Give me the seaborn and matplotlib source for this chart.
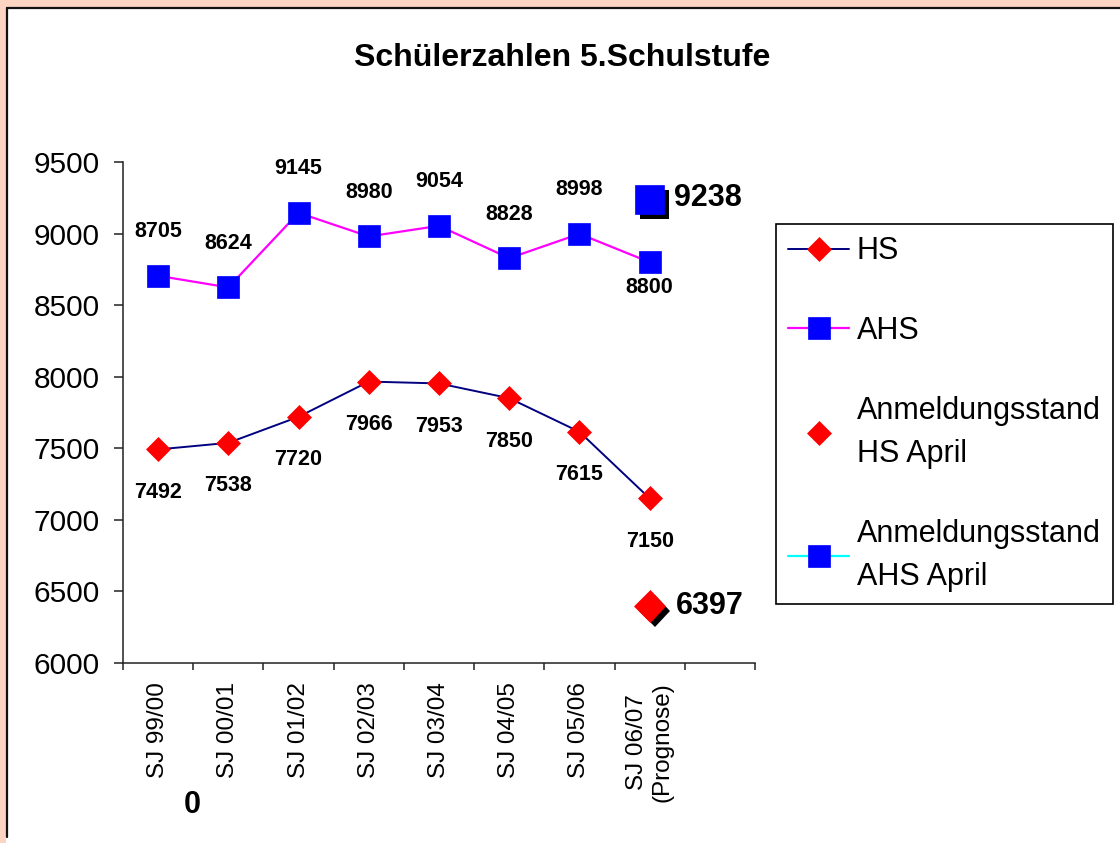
import numpy as np
import pandas as pd
import matplotlib
matplotlib.use("Agg")
import matplotlib.pyplot as plt
import matplotlib.patheffects as pe
from matplotlib.patches import Rectangle
from matplotlib.lines import Line2D
import seaborn as sns

# ---------------- data ----------------
title = "Schülerzahlen 5.Schulstufe"
categories = ["SJ 99/00", "SJ 00/01", "SJ 01/02", "SJ 02/03", "SJ 03/04",
              "SJ 04/05", "SJ 05/06", "SJ 06/07\n(Prognose)"]
hs = [7492, 7538, 7720, 7966, 7953, 7850, 7615, 7150]
ahs = [8705, 8624, 9145, 8980, 9054, 8828, 8998, 8800]
april_category = "SJ 06/07\n(Prognose)"
hs_april = [6397]
ahs_april = [9238]
series_names = ["HS", "AHS", "Anmeldungsstand\nHS April", "Anmeldungsstand\nAHS April"]
yticks = [6000, 6500, 7000, 7500, 8000, 8500, 9000, 9500]
stray_label = "0"

# ---------------- style ----------------
sns.set_style("ticks")
plt.rcParams["font.family"] = ["Liberation Sans", "DejaVu Sans"]
plt.rcParams["text.color"] = "black"
plt.rcParams["xtick.color"] = "black"
plt.rcParams["ytick.color"] = "black"
plt.rcParams["axes.labelcolor"] = "black"

W, H = 1120, 843
fig = plt.figure(figsize=(W / 100, H / 100), dpi=100)
fig.patch.set_facecolor("white")

# peach frame decoration
peach = "#FCD4C2"
fig.patches.append(Rectangle((0, 1 - 7 / H), 1, 7 / H, transform=fig.transFigure,
                             facecolor=peach, edgecolor="none", zorder=0))
fig.patches.append(Rectangle((0, 0), 6 / W, 1, transform=fig.transFigure,
                             facecolor=peach, edgecolor="none", zorder=0))
fig.lines.append(Line2D([7 / W, 1], [1 - 8 / H, 1 - 8 / H], transform=fig.transFigure,
                        color="#111111", lw=1.6))
fig.lines.append(Line2D([7 / W, 7 / W], [1 - 8 / H, 1 - 837 / H], transform=fig.transFigure,
                        color="#111111", lw=1.6))

ax = fig.add_axes([123 / W, 1 - 663 / H, (755 - 123) / W, (663 - 162) / H])
ax.set_facecolor("white")

pos = np.arange(len(categories))
df = pd.DataFrame({"pos": pos, "HS": hs, "AHS": ahs})
apos = [categories.index(april_category)]
df_hs_apr = pd.DataFrame({"pos": apos, "v": hs_april})
df_ahs_apr = pd.DataFrame({"pos": apos, "v": ahs_april})

sns.lineplot(data=df, x="pos", y="HS", ax=ax, color="#000080", lw=1.4,
             marker="D", markersize=12.5, markerfacecolor="#FF0000",
             markeredgecolor="#FF0000", markeredgewidth=0.5, label=series_names[0])
sns.lineplot(data=df, x="pos", y="AHS", ax=ax, color="#FF00FF", lw=1.6,
             marker="s", markersize=15.5, markerfacecolor="#0000FF",
             markeredgecolor="#0000FF", markeredgewidth=0.5, label=series_names[1])
sns.lineplot(data=df_hs_apr, x="pos", y="v", ax=ax, color="#FF0000", linestyle="none",
             marker="D", markersize=16, markerfacecolor="#FF0000",
             markeredgecolor="#FF0000", markeredgewidth=0.5, label=series_names[2])
sns.lineplot(data=df_ahs_apr, x="pos", y="v", ax=ax, color="#00FFFF", lw=1.6,
             marker="s", markersize=21, markerfacecolor="#0000FF",
             markeredgecolor="#0000FF", markeredgewidth=0.5, label=series_names[3])

shadow = [pe.SimplePatchShadow(offset=(3.5, -3.5), shadow_rgbFace="black", alpha=1.0),
          pe.Normal()]
ax.lines[2].set_path_effects(shadow)
ax.lines[3].set_path_effects(shadow)

# data labels
lab_kw = dict(fontsize=15.5, fontweight="bold", ha="center", va="center",
              textcoords="offset pixels", color="black")
for p, v in zip(pos, ahs):
    dy = -25 if p == len(pos) - 1 else 44
    ax.annotate(str(v), (p, v), xytext=(0, dy), **lab_kw)
for p, v in zip(pos, hs):
    ax.annotate(str(v), (p, v), xytext=(0, -43), **lab_kw)
big_kw = dict(fontsize=22, fontweight="bold", ha="left", va="center",
              textcoords="offset pixels", color="black")
ax.annotate(str(ahs_april[0]), (apos[0], ahs_april[0]), xytext=(24, 2), **big_kw)
ax.annotate(str(hs_april[0]), (apos[0], hs_april[0]), xytext=(26, 0), **big_kw)

# axes
ax.set_xlim(-0.5, len(categories) + 0.5)
ax.set_ylim(yticks[0], yticks[-1])
ax.set_yticks(yticks)
ax.set_yticklabels([str(t) for t in yticks])
ax.set_xticks(np.arange(-0.5, len(categories) + 1, 1))
ax.set_xticklabels([])
ax.set_xticks(pos, minor=True)
ax.set_xticklabels(categories, minor=True, rotation=90)
for t in ax.get_xticklabels(minor=True):
    t.set_multialignment("center")
ax.tick_params(axis="x", which="major", length=5, width=1.1, direction="out", color="#222222")
ax.tick_params(axis="x", which="minor", length=0, pad=14, labelsize=17.5, labelcolor="black")
ax.tick_params(axis="y", which="major", length=6.5, width=1.1, direction="out",
               color="#222222", pad=10, labelsize=21.5, labelcolor="black")
ax.set_xlabel("")
ax.set_ylabel("")
sns.despine(ax=ax)
for s in ("left", "bottom"):
    ax.spines[s].set_color("#222222")
    ax.spines[s].set_linewidth(1.1)

ax.get_legend().remove()
handles = ax.lines[:4]
leg = fig.legend(handles, series_names, loc="upper left",
                 bbox_to_anchor=(776 / W, 1 - 224 / H), bbox_transform=fig.transFigure,
                 frameon=True, fancybox=False, edgecolor="black", fontsize=22,
                 handlelength=2.0, handletextpad=0.25, labelspacing=1.63,
                 borderpad=0.4, borderaxespad=0, framealpha=1)
leg.get_frame().set_linewidth(1.2)
for h, ms in zip(leg.legend_handles, [12.5, 15.5, 12.5, 15.5]):
    h.set_path_effects([])
    h.set_markersize(ms)
for t in leg.get_texts():
    t.set_linespacing(1.57)
    t.set_color("black")

fig.text(562 / W, 1 - 58 / H, title, fontsize=23, fontweight="bold",
         ha="center", va="center", color="black")
fig.text(192 / W, 1 - 805 / H, stray_label, fontsize=22, fontweight="bold",
         ha="center", va="center", color="black")

fig.savefig("out.png", dpi=100, facecolor="white")
